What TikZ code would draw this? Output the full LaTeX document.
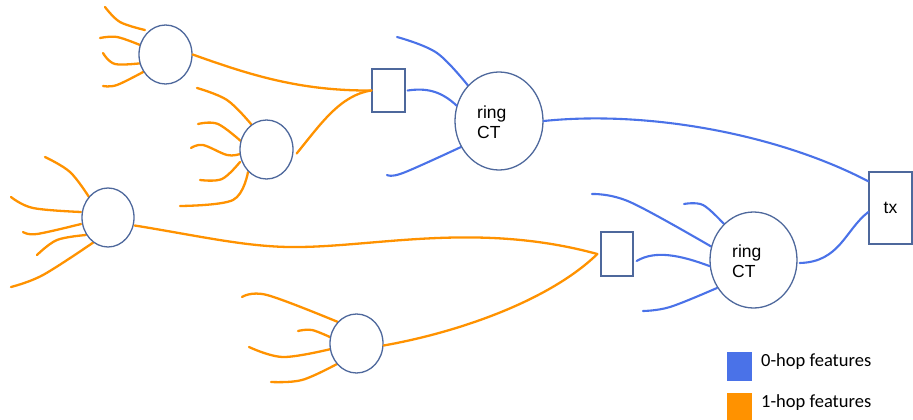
\documentclass[tikz,border=0pt]{standalone}
\usepackage{fontspec}
\setmainfont{Liberation Sans}
\newfontfamily\legfont{Carlito}
\usetikzlibrary{shapes.geometric,calc}
\definecolor{hopzero}{RGB}{74,114,232}
\definecolor{hopone}{RGB}{255,146,0}
\definecolor{rim}{RGB}{78,104,156}
\begin{document}
\begin{tikzpicture}[x=1pt,y=-1pt,
  circ/.style={draw=rim,line width=1.3pt,ellipse,inner sep=0pt,fill=white},
  bx/.style={draw=rim,line width=1.3pt,rectangle,inner sep=0pt,fill=white},
  o/.style={draw=hopone,line width=2.3pt,line cap=round},
  b/.style={draw=hopzero,line width=2.1pt,line cap=round},
  lbl/.style={font=\fontsize{17.5}{20}\selectfont,align=left,inner sep=0pt},
  legbox/.style={minimum width=25pt,minimum height=29pt,inner sep=0pt},
  legtxt/.style={font=\legfont\fontsize{18.5}{20}\selectfont,anchor=west,inner sep=0pt}]
\useasboundingbox (0,0) rectangle (913,420);

% ---------- orange feature lines (1-hop) ----------
% circle A
\draw[o] plot[smooth,tension=0.6] coordinates {(105,7) (120,22) (145,30)};
\draw[o] plot[smooth,tension=0.6] coordinates {(100,38) (117,37) (140,45)};
\draw[o] plot[smooth,tension=0.6] coordinates {(103,53) (115,64) (143,63)};
\draw[o] plot[smooth,tension=0.6] coordinates {(103,86) (117,85) (145,71)};
% circle B
\draw[o] plot[smooth,tension=0.6] coordinates {(197,88) (227,100) (251,124)};
\draw[o] plot[smooth,tension=0.6] coordinates {(198,124) (218,124) (243,143)};
\draw[o] plot[smooth,tension=0.6] coordinates {(191,148) (203,145) (227,155) (240,154)};
\draw[o] plot[smooth,tension=0.6] coordinates {(200,180) (222,179) (240,162)};
\draw[o] plot[smooth,tension=0.6] coordinates {(180,206) (233,200) (248,172)};
% circle C
\draw[o] plot[smooth,tension=0.6] coordinates {(45,157) (70,172) (89,197)};
\draw[o] plot[smooth,tension=0.6] coordinates {(11,197) (33,208) (81,212)};
\draw[o] plot[smooth,tension=0.6] coordinates {(23,232) (37,234) (81,224)};
\draw[o] plot[smooth,tension=0.6] coordinates {(37,255) (57,240) (86,235)};
\draw[o] plot[smooth,tension=0.6] coordinates {(11,287) (43,275) (94,242)};
% circle D
\draw[o] plot[smooth,tension=0.6] coordinates {(242,297) (267,295) (338,322)};
\draw[o] plot[smooth,tension=0.6] coordinates {(298,331) (312,330) (332,338)};
\draw[o] plot[smooth,tension=0.6] coordinates {(249,347) (283,357) (331,349)};
\draw[o] plot[smooth,tension=0.6] coordinates {(271,382) (302,380) (337,364)};

% ---------- blue feature lines (0-hop) ----------
\draw[b] plot[smooth,tension=0.6] coordinates {(397,37) (437,53) (470,88)};
\draw[b] plot[smooth,tension=0.6] coordinates {(387,175) (403,173) (461,147)};
\draw[b] plot[smooth,tension=0.6] coordinates {(592,194) (630,202) (712,247)};
\draw[b] plot[smooth,tension=0.6] coordinates {(684,204) (703,205) (724,224)};
\draw[b] plot[smooth,tension=0.6] coordinates {(643,311) (670,307) (717,288)};

% ---------- nodes ----------
\node[circ,minimum width=53pt,minimum height=59pt] (A) at (165.5,54.5) {};
\node[circ,minimum width=53pt,minimum height=59pt] (B) at (266.5,149.5) {};
\node[circ,minimum width=52pt,minimum height=59pt] (C) at (108,217.5) {};
\node[circ,minimum width=53pt,minimum height=59pt] (D) at (356.5,343.5) {};
\node[bx,minimum width=33pt,minimum height=43pt] (box1) at (388.5,90.5) {};
\node[bx,minimum width=32pt,minimum height=44pt] (box2) at (617,254) {};
\node[circ,minimum width=88pt,minimum height=98pt] (R1) at (499,121) {};
\node[circ,minimum width=87pt,minimum height=96pt] (R2) at (753.5,260) {};
\node[bx,minimum width=43pt,minimum height=72pt,lbl] (tx) at (890.5,208) {tx};
\node[lbl,anchor=west] (R1t) at (477,122) {ring\\CT};
\node[lbl,anchor=west] (R2t) at (732,261) {ring\\CT};

% ---------- connectors ----------
\draw[o] (A.east) .. controls (250,75) and (300,91) .. (box1.west);
\draw[o] ($(B.east)+(3,4)$) .. controls (320,125) and (340,95) .. (box1.west);
\draw[o] ($(C.east)+(0,8)$) .. controls (200,236) and (250,248) .. (300,247)
   .. controls (380,246) and (480,222) .. ($(box2.west)+(-3,0)$);
\draw[o] ($(D.east)+(0,2)$) .. controls (460,332) and (550,300) .. ($(box2.west)+(-3,0)$);
\draw[b] ($(box1.east)+(2,0)$) .. controls (425,88) and (440,90) .. (R1.160);
\draw[b] (R1.east) .. controls (650,110) and (780,135) .. ($(tx.north west)+(0,10)$);
\draw[b] ($(box2.east)+(3,7)$) .. controls (655,250) and (680,255) .. (R2.188);
\draw[b] ($(R2.east)+(2,3)$) .. controls (840,262) and (845,230) .. ($(tx.west)+(0,4)$);

% ---------- legend ----------
\node[legbox,fill=hopzero] (L0) at (739.5,366.5) {};
\node[legbox,fill=hopone] (L1) at (739.5,407.5) {};
\node[legtxt] (L0t) at (761,362) {0-hop features};
\node[legtxt] (L1t) at (761,403) {1-hop features};
\end{tikzpicture}
\end{document}
